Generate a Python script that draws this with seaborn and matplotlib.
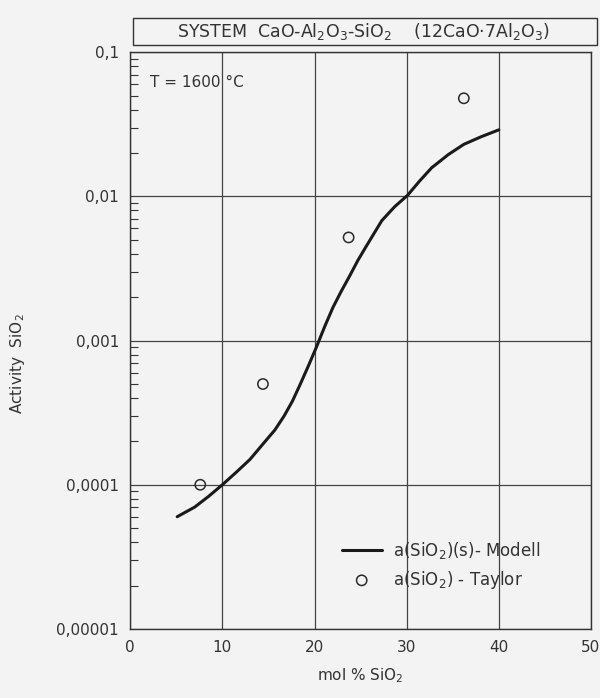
import numpy as np
import pandas as pd
import matplotlib
matplotlib.use("Agg")
import matplotlib.pyplot as plt
import seaborn as sns
from matplotlib.patches import Rectangle
from matplotlib.ticker import LogLocator, FixedLocator, NullFormatter

# --- data ---
model_x = [5.1, 7, 8.5, 10, 11.5, 13, 14.5, 15.7, 16.7, 17.6, 18.4, 19.3, 20.2,
           21.1, 22, 22.9, 23.8, 24.7, 25.6, 26.5, 27.3, 28.7, 30.1, 31.4, 32.7,
           34.5, 36.2, 38.1, 40]
model_y = [6.0e-5, 7.0e-5, 8.3e-5, 1.0e-4, 1.22e-4, 1.5e-4, 1.95e-4, 2.4e-4,
           3.0e-4, 3.8e-4, 4.9e-4, 6.6e-4, 9.0e-4, 1.25e-3, 1.7e-3, 2.2e-3,
           2.8e-3, 3.6e-3, 4.5e-3, 5.6e-3, 6.8e-3, 8.5e-3, 1.02e-2, 1.28e-2,
           1.58e-2, 1.95e-2, 2.3e-2, 2.6e-2, 2.9e-2]
taylor_x = [7.6, 14.4, 23.7, 36.2]
taylor_y = [1.0e-4, 5.0e-4, 5.2e-3, 4.8e-2]
y_ticks = [1e-5, 1e-4, 1e-3, 1e-2, 1e-1]
y_labels = ["0,00001", "0,0001", "0,001", "0,01", "0,1"]
x_ticks = [0, 10, 20, 30, 40, 50]
x_labels = ["0", "10", "20", "30", "40", "50"]

sns.set_style("white")
plt.rcParams['font.family'] = ['DejaVu Sans']
ink = "#333333"
bg = "#f3f3f3"

fig = plt.figure(figsize=(6.0, 6.98), dpi=100, facecolor=bg)
ax = fig.add_axes([0.217, 0.099, 0.768, 0.826])
ax.set_facecolor(bg)

df_m = pd.DataFrame({"x": model_x, "y": model_y})
df_t = pd.DataFrame({"x": taylor_x, "y": taylor_y})

sns.lineplot(data=df_m, x="x", y="y", ax=ax, color="#1a1a1a", lw=2.2,
             label="a(SiO$_2$)(s)- Modell")
sns.scatterplot(data=df_t, x="x", y="y", ax=ax, marker="o", s=55,
                facecolor="none", edgecolor="#2a2a2a", linewidth=1.1,
                label="a(SiO$_2$) - Taylor")

ax.set_yscale("log")
ax.set_xlim(0, 50)
ax.set_ylim(1e-5, 1e-1)
ax.set_xticks(x_ticks)
ax.set_xticklabels(x_labels)
ax.yaxis.set_major_locator(FixedLocator(y_ticks))
ax.set_yticklabels(y_labels)
ax.yaxis.set_minor_locator(LogLocator(base=10, subs=np.arange(2, 10)))
ax.yaxis.set_minor_formatter(NullFormatter())
ax.tick_params(axis="y", which="minor", direction="in", length=6, width=0.8,
               color=ink, left=True, right=False)
ax.tick_params(axis="y", which="major", direction="in", length=0, pad=8,
               labelsize=11, labelcolor=ink)
ax.tick_params(axis="x", which="major", length=0, pad=8, labelsize=11,
               labelcolor=ink)

ax.grid(True, which="major", color="#444444", lw=0.9)
for s in ax.spines.values():
    s.set_color(ink)
    s.set_linewidth(1.0)

ax.set_xlabel("mol % SiO$_2$", fontsize=11, color=ink, labelpad=8)
ax.set_ylabel("Activity  SiO$_2$", fontsize=11, color=ink)
ax.yaxis.set_label_coords(-0.225, 0.46)

ax.text(2.2, 0.062, "T = 1600 °C", fontsize=11, color=ink, va="center")

leg = ax.legend(loc="center", bbox_to_anchor=(0.675, 0.11), frameon=False,
                fontsize=12, handlelength=2.4, labelspacing=0.45,
                handletextpad=0.7)
for t in leg.get_texts():
    t.set_color(ink)

fig.patches.append(Rectangle((0.222, 0.9355), 0.773, 0.0385, transform=fig.transFigure,
                             facecolor=bg, edgecolor=ink, lw=1.0))
fig.text(0.605, 0.955, "SYSTEM  CaO-Al$_2$O$_3$-SiO$_2$    (12CaO·7Al$_2$O$_3$)",
         ha="center", va="center", fontsize=12.5, color=ink)

fig.savefig("out.png", dpi=100, facecolor=bg)
